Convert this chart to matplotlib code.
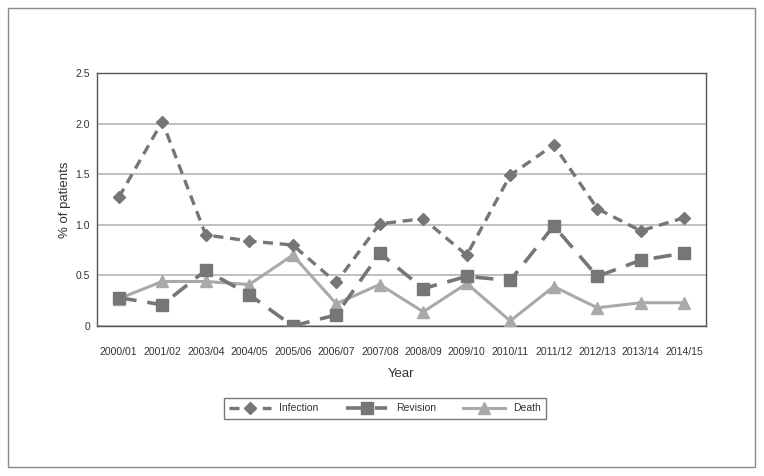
import matplotlib

matplotlib.use('Agg')
import matplotlib.pyplot as plt
from matplotlib.patches import Rectangle

years = ['2000/01', '2001/02', '2003/04', '2004/05', '2005/06', '2006/07', '2007/08',
         '2008/09', '2009/10', '2010/11', '2011/12', '2012/13', '2013/14', '2014/15']
infection = [1.27, 2.02, 0.90, 0.84, 0.80, 0.43, 1.01, 1.06, 0.70, 1.49, 1.79, 1.16, 0.94, 1.07]
revision = [0.28, 0.21, 0.55, 0.31, 0.0, 0.11, 0.72, 0.37, 0.49, 0.45, 0.99, 0.49, 0.65, 0.72]
death = [0.27, 0.44, 0.44, 0.41, 0.70, 0.22, 0.41, 0.14, 0.42, 0.05, 0.39, 0.18, 0.23, 0.23]
yticks = [0, 0.5, 1.0, 1.5, 2.0, 2.5]
ytick_labels = ['0', '0.5', '1.0', '1.5', '2.0', '2.5']

plt.rcParams['font.family'] = ['Liberation Sans', 'DejaVu Sans']

dark = '#767676'
light = '#a9a9a9'

fig = plt.figure(figsize=(7.64, 4.76), dpi=100)
# outer frame
fig.patches.append(Rectangle((8 / 764, 9 / 476), 747 / 764, 459 / 476, transform=fig.transFigure,
                             fill=False, edgecolor='#8a8a8a', linewidth=1.0))

ax = fig.add_axes([97 / 764, 1 - 326 / 476, 609 / 764, 253 / 476])
x = list(range(len(years)))

ax.plot(x, death, color=light, linewidth=2.2, marker='^', markersize=8, label='Death', zorder=3)
ax.plot(x, revision, color=dark, linewidth=2.6, linestyle=(0, (5, 3)), marker='s',
        markersize=8, label='Revision', zorder=4)
ax.plot(x, infection, color=dark, linewidth=2.4, linestyle=(0, (3, 2)), marker='D',
        markersize=6, label='Infection', zorder=5)

ax.set_xlim(-0.5, len(years) - 0.5)
ax.set_ylim(0, 2.5)
ax.set_yticks(yticks)
ax.set_yticklabels(ytick_labels)
ax.set_xticks(x)
ax.set_xticklabels(years)
ax.tick_params(length=0, labelsize=7.5, colors='#333333')
ax.tick_params(axis='x', pad=15)
ax.tick_params(axis='y', pad=5)
ax.yaxis.grid(True, color='#b5b5b5', linewidth=1.2)
ax.set_axisbelow(True)
for s in ax.spines.values():
    s.set_color('#555555')
    s.set_linewidth(1.0)

ax.set_xlabel('Year', fontsize=9.5, color='#333333', labelpad=8)
ax.set_ylabel('% of patients', fontsize=9.5, color='#333333', labelpad=3)

handles, labels = ax.get_legend_handles_labels()
order = [2, 1, 0]
leg = ax.legend([handles[i] for i in order], [labels[i] for i in order],
                loc='upper center', bbox_to_anchor=(0.473, -0.265), ncol=3,
                fontsize=7.5, frameon=True, fancybox=False, handlelength=4.0,
                columnspacing=2.6, borderpad=0.5, handletextpad=0.8)
leg.get_frame().set_edgecolor('#555555')
leg.get_frame().set_linewidth(1.0)
for t in leg.get_texts():
    t.set_color('#333333')

fig.savefig('out.png', dpi=100)
